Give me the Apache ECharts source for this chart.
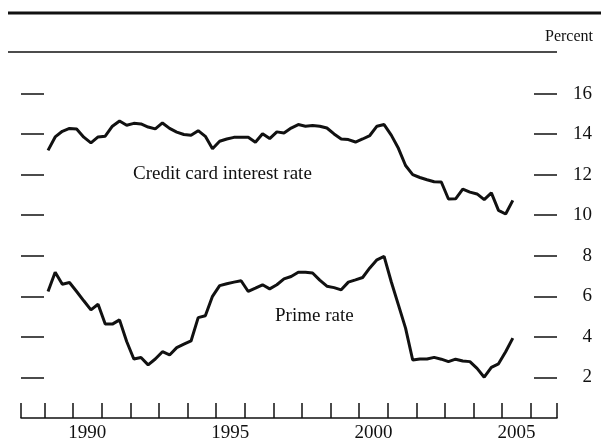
<!DOCTYPE html>
<html>
<head>
<meta charset="utf-8">
<script src="https://cdn.jsdelivr.net/npm/echarts@6/dist/echarts.min.js"></script>
<style>
  html, body { margin: 0; padding: 0; background: #fff; }
  #chart { width: 601px; height: 443px; }
</style>
</head>
<body>
<div id="chart"></div>
<script>
// quarterly readings (Feb, May, Aug, Nov), 1989 to mid-2005
const startYear = 1989.125;
const stepYears = 0.25;

const creditCard = [
  13.2, 13.86, 14.14, 14.28, 14.25, 13.85, 13.57, 13.86, 13.9, 14.39,
  14.65, 14.44, 14.53, 14.5, 14.35, 14.26, 14.55, 14.28, 14.1, 13.98,
  13.94, 14.17, 13.89, 13.28, 13.65, 13.76, 13.84, 13.84, 13.84, 13.6,
  14.02, 13.78, 14.11, 14.06, 14.3, 14.47, 14.39, 14.42, 14.39, 14.3,
  14.01, 13.76, 13.73, 13.61, 13.76, 13.93, 14.39, 14.47, 13.95, 13.3,
  12.45, 12.0, 11.86, 11.75, 11.65, 11.64, 10.8, 10.81, 11.29, 11.14,
  11.05, 10.77, 11.1, 10.24, 10.06, 10.73
];

const primeRate = [
  6.24, 7.19, 6.6, 6.68, 6.24, 5.78, 5.33, 5.61, 4.64, 4.63,
  4.84, 3.77, 2.91, 2.98, 2.62, 2.91, 3.27, 3.11, 3.47, 3.64,
  3.8, 4.95, 5.04, 6.0, 6.53, 6.62, 6.7, 6.77, 6.24, 6.4,
  6.57, 6.37, 6.57, 6.86, 6.98, 7.19, 7.19, 7.15, 6.8, 6.5,
  6.43, 6.32, 6.7, 6.81, 6.93, 7.4, 7.8, 7.97, 6.72, 5.58,
  4.43, 2.86, 2.91, 2.91, 2.99, 2.9, 2.78, 2.9, 2.81, 2.78,
  2.45, 2.01, 2.5, 2.67, 3.27, 3.94
];

const yTicks = [2, 4, 6, 8, 10, 12, 14, 16];
const yearTicks = [1989, 1990, 1991, 1992, 1993, 1994, 1995, 1996, 1997,
  1998, 1999, 2000, 2001, 2002, 2003, 2004, 2005, 2006];
const yearLabels = [1990, 1995, 2000, 2005];

const xMin = 1988.18;
const xMax = 2006.92;

const serif = 'Liberation Serif';
const ink = '#111';

function toPairs (values) {
  return values.map((v, i) => [startYear + i * stepYears, v]);
}

const chart = echarts.init(document.getElementById('chart'));

const yAxisBase = {
  type: 'value',
  min: 0,
  max: 18,
  axisLine: { show: false },
  axisTick: {
    show: true,
    inside: true,
    length: 23,
    customValues: yTicks,
    lineStyle: { color: ink, width: 1.5 },
  },
  splitLine: { show: false },
};

chart.setOption({
  backgroundColor: '#fff',
  animation: false,
  title: {
    text: 'Percent',
    right: 8,
    top: 29,
    padding: 0,
    textStyle: { fontFamily: serif, fontSize: 16, fontWeight: 'normal', color: ink },
  },
  grid: { left: 21, right: 44, top: 53, bottom: 25 },
  xAxis: {
    type: 'value',
    min: xMin,
    max: xMax,
    axisLine: { show: true, lineStyle: { color: ink, width: 1.5 } },
    axisTick: {
      show: true,
      inside: true,
      length: 15,
      customValues: [xMin].concat(yearTicks, [xMax]),
      lineStyle: { color: ink, width: 1.5 },
    },
    axisLabel: {
      customValues: yearLabels.map((y) => y + 0.5),
      formatter: (v) => String(Math.floor(v)),
      fontFamily: serif,
      fontSize: 19,
      color: ink,
      margin: 6,
    },
    splitLine: { show: false },
  },
  yAxis: [
    Object.assign({}, yAxisBase, {
      position: 'left',
      axisLabel: { show: false },
    }),
    Object.assign({}, yAxisBase, {
      position: 'right',
      axisLabel: {
        customValues: yTicks,
        align: 'right',
        margin: 35,
        fontFamily: serif,
        fontSize: 19,
        color: ink,
      },
    }),
  ],
  graphic: [
    { type: 'line', shape: { x1: 8, y1: 13, x2: 601, y2: 13 }, style: { stroke: ink, lineWidth: 3 } },
    { type: 'line', shape: { x1: 8, y1: 52, x2: 557, y2: 52 }, style: { stroke: ink, lineWidth: 1.5 } },
    {
      type: 'text', x: 133, y: 174,
      style: { text: 'Credit card interest rate', font: '19px "Liberation Serif"', fill: ink, verticalAlign: 'middle' },
    },
    {
      type: 'text', x: 275, y: 316,
      style: { text: 'Prime rate', font: '19px "Liberation Serif"', fill: ink, verticalAlign: 'middle' },
    },
  ],
  series: [
    {
      name: 'Credit card interest rate',
      type: 'line',
      yAxisIndex: 0,
      data: toPairs(creditCard),
      symbol: 'none',
      lineStyle: { color: ink, width: 3 },
    },
    {
      name: 'Prime rate',
      type: 'line',
      yAxisIndex: 0,
      data: toPairs(primeRate),
      symbol: 'none',
      lineStyle: { color: ink, width: 3 },
    },
  ],
});
</script>
</body>
</html>
